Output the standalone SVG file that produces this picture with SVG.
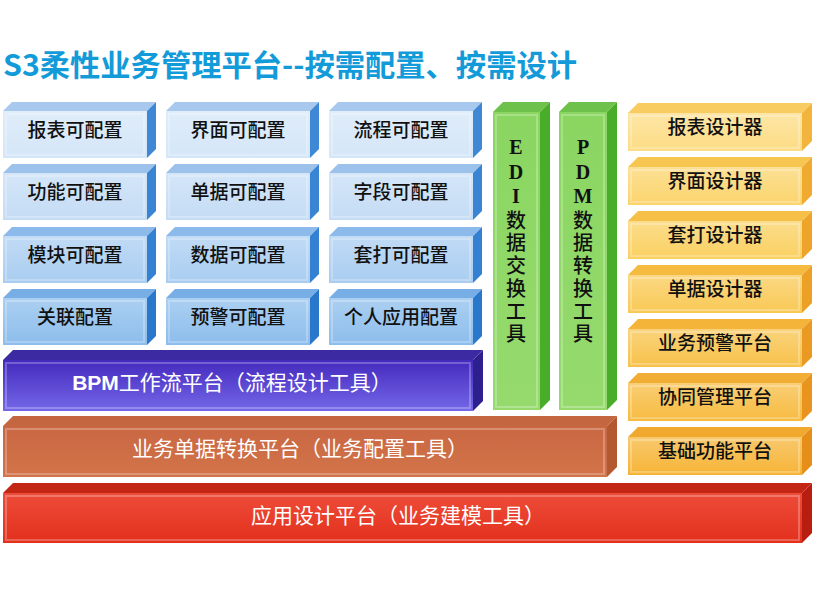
<svg xmlns="http://www.w3.org/2000/svg" width="813" height="603" viewBox="0 0 813 603">
<defs>
<linearGradient id="gloss" x1="0" y1="0" x2="0" y2="1">
<stop offset="0" stop-color="#fff" stop-opacity="0.28"/>
<stop offset="1" stop-color="#fff" stop-opacity="0"/>
</linearGradient>
<linearGradient id="gPurple" x1="0" y1="0" x2="0" y2="1">
<stop offset="0" stop-color="#4429bd"/>
<stop offset="1" stop-color="#7468e8"/>
</linearGradient>
<linearGradient id="gBrown" x1="0" y1="0" x2="0" y2="1">
<stop offset="0" stop-color="#c96742"/>
<stop offset="1" stop-color="#d2744a"/>
</linearGradient>
<linearGradient id="gRed" x1="0" y1="0" x2="0" y2="1">
<stop offset="0" stop-color="#ee4c3a"/>
<stop offset="1" stop-color="#e2301c"/>
</linearGradient>
<linearGradient id="gGreen" x1="0" y1="0" x2="0" y2="1">
<stop offset="0" stop-color="#8ad661"/>
<stop offset="1" stop-color="#96da6e"/>
</linearGradient>
</defs>
<style>
.t{font-family:"Noto Sans CJK SC","Noto Sans",sans-serif;font-size:19px;font-weight:500;fill:#111;text-anchor:middle}
.w{font-family:"Noto Sans CJK SC","Noto Sans",sans-serif;font-size:21px;fill:#fff;text-anchor:middle}
.v{font-family:"Noto Sans CJK SC","Noto Sans",sans-serif;font-size:20px;font-weight:500;fill:#111;writing-mode:vertical-rl;text-orientation:upright;letter-spacing:2.7px}
.l{font-family:"Liberation Serif","Noto Serif",serif;font-weight:bold}
.in{fill:none;stroke:#fff;stroke-opacity:0.25;stroke-width:2}
.title{font-family:"Noto Sans CJK SC","Noto Sans",sans-serif;font-size:30px;font-weight:bold;fill:#139bd9}
</style>
<rect width="813" height="603" fill="#fff"/>
<text class="title" x="3" y="76" textLength="574" lengthAdjust="spacingAndGlyphs">S3柔性业务管理平台--按需配置、按需设计</text>

<g id="n-baobiao-pz">
<polygon points="3,111 12,102 156,102 147,111" fill="#a8c8ee"/>
<polygon points="147,111 156,102 156,149 147,158" fill="#3f88d6"/>
<rect x="3" y="111" width="144" height="47" fill="#d4e6f8"/>
<rect x="3" y="111" width="144" height="47" fill="url(#gloss)"/>
<rect x="6" y="114" width="138" height="41" class="in"/>
<text class="t" x="75" y="137">报表可配置</text>
</g>
<g id="n-jiemian-pz">
<polygon points="166,111 175,102 319,102 310,111" fill="#a8c8ee"/>
<polygon points="310,111 319,102 319,149 310,158" fill="#3f88d6"/>
<rect x="166" y="111" width="144" height="47" fill="#d4e6f8"/>
<rect x="166" y="111" width="144" height="47" fill="url(#gloss)"/>
<rect x="169" y="114" width="138" height="41" class="in"/>
<text class="t" x="238" y="137">界面可配置</text>
</g>
<g id="n-liucheng-pz">
<polygon points="329,111 338,102 482,102 473,111" fill="#a8c8ee"/>
<polygon points="473,111 482,102 482,149 473,158" fill="#3f88d6"/>
<rect x="329" y="111" width="144" height="47" fill="#d4e6f8"/>
<rect x="329" y="111" width="144" height="47" fill="url(#gloss)"/>
<rect x="332" y="114" width="138" height="41" class="in"/>
<text class="t" x="401" y="137">流程可配置</text>
</g>

<g id="n-gongneng-pz">
<polygon points="3,173 12,164 156,164 147,173" fill="#9cc2ec"/>
<polygon points="147,173 156,164 156,211 147,220" fill="#3a84d4"/>
<rect x="3" y="173" width="144" height="47" fill="#c4dcf5"/>
<rect x="3" y="173" width="144" height="47" fill="url(#gloss)"/>
<rect x="6" y="176" width="138" height="41" class="in"/>
<text class="t" x="75" y="199">功能可配置</text>
</g>
<g id="n-danju-pz">
<polygon points="166,173 175,164 319,164 310,173" fill="#9cc2ec"/>
<polygon points="310,173 319,164 319,211 310,220" fill="#3a84d4"/>
<rect x="166" y="173" width="144" height="47" fill="#c4dcf5"/>
<rect x="166" y="173" width="144" height="47" fill="url(#gloss)"/>
<rect x="169" y="176" width="138" height="41" class="in"/>
<text class="t" x="238" y="199">单据可配置</text>
</g>
<g id="n-ziduan-pz">
<polygon points="329,173 338,164 482,164 473,173" fill="#9cc2ec"/>
<polygon points="473,173 482,164 482,211 473,220" fill="#3a84d4"/>
<rect x="329" y="173" width="144" height="47" fill="#c4dcf5"/>
<rect x="329" y="173" width="144" height="47" fill="url(#gloss)"/>
<rect x="332" y="176" width="138" height="41" class="in"/>
<text class="t" x="401" y="199">字段可配置</text>
</g>

<g id="n-mokuai-pz">
<polygon points="3,236 12,227 156,227 147,236" fill="#8cbaea"/>
<polygon points="147,236 156,227 156,274 147,283" fill="#3480d2"/>
<rect x="3" y="236" width="144" height="47" fill="#a9cdf1"/>
<rect x="3" y="236" width="144" height="47" fill="url(#gloss)"/>
<rect x="6" y="239" width="138" height="41" class="in"/>
<text class="t" x="75" y="262">模块可配置</text>
</g>
<g id="n-shuju-pz">
<polygon points="166,236 175,227 319,227 310,236" fill="#8cbaea"/>
<polygon points="310,236 319,227 319,274 310,283" fill="#3480d2"/>
<rect x="166" y="236" width="144" height="47" fill="#a9cdf1"/>
<rect x="166" y="236" width="144" height="47" fill="url(#gloss)"/>
<rect x="169" y="239" width="138" height="41" class="in"/>
<text class="t" x="238" y="262">数据可配置</text>
</g>
<g id="n-taoda-pz">
<polygon points="329,236 338,227 482,227 473,236" fill="#8cbaea"/>
<polygon points="473,236 482,227 482,274 473,283" fill="#3480d2"/>
<rect x="329" y="236" width="144" height="47" fill="#a9cdf1"/>
<rect x="329" y="236" width="144" height="47" fill="url(#gloss)"/>
<rect x="332" y="239" width="138" height="41" class="in"/>
<text class="t" x="401" y="262">套打可配置</text>
</g>

<g id="n-guanlian-pz">
<polygon points="3,298 12,289 156,289 147,298" fill="#78aee6"/>
<polygon points="147,298 156,289 156,336 147,345" fill="#2a78cc"/>
<rect x="3" y="298" width="144" height="47" fill="#8cbdec"/>
<rect x="3" y="298" width="144" height="47" fill="url(#gloss)"/>
<rect x="6" y="301" width="138" height="41" class="in"/>
<text class="t" x="75" y="324">关联配置</text>
</g>
<g id="n-yujing-pz">
<polygon points="166,298 175,289 319,289 310,298" fill="#78aee6"/>
<polygon points="310,298 319,289 319,336 310,345" fill="#2a78cc"/>
<rect x="166" y="298" width="144" height="47" fill="#8cbdec"/>
<rect x="166" y="298" width="144" height="47" fill="url(#gloss)"/>
<rect x="169" y="301" width="138" height="41" class="in"/>
<text class="t" x="238" y="324">预警可配置</text>
</g>
<g id="n-geren-pz">
<polygon points="329,298 338,289 482,289 473,298" fill="#78aee6"/>
<polygon points="473,298 482,289 482,336 473,345" fill="#2a78cc"/>
<rect x="329" y="298" width="144" height="47" fill="#8cbdec"/>
<rect x="329" y="298" width="144" height="47" fill="url(#gloss)"/>
<rect x="332" y="301" width="138" height="41" class="in"/>
<text class="t" x="401" y="324">个人应用配置</text>
</g>

<g id="n-edi">
<polygon points="493,112 503,102 550,102 540,112" fill="#6ec24c"/>
<polygon points="540,112 550,102 550,400 540,410" fill="#4aad2a"/>
<rect x="493" y="112" width="47" height="298" fill="url(#gGreen)"/>
<rect x="496" y="115" width="41" height="292" class="in"/>
<text class="v" x="516" y="136"><tspan class="l">EDI</tspan>数据交换工具</text>
</g>
<g id="n-pdm">
<polygon points="559,112 569,102 617,102 607,112" fill="#6ec24c"/>
<polygon points="607,112 617,102 617,400 607,410" fill="#4aad2a"/>
<rect x="559" y="112" width="48" height="298" fill="url(#gGreen)"/>
<rect x="562" y="115" width="42" height="292" class="in"/>
<text class="v" x="583" y="136"><tspan class="l">PDM</tspan>数据转换工具</text>
</g>

<g id="n-baobiao-sj">
<polygon points="628,113 638,103 812,103 802,113" fill="#f8cc60"/>
<polygon points="802,113 812,103 812,141 802,151" fill="#f2b43c"/>
<rect x="628" y="113" width="174" height="38" fill="#fcdc84"/>
<rect x="628" y="113" width="174" height="38" fill="url(#gloss)"/>
<rect x="631" y="116" width="168" height="32" class="in"/>
<text class="t" x="715" y="134">报表设计器</text>
</g>
<g id="n-jiemian-sj">
<polygon points="628,167 638,157 812,157 802,167" fill="#f7c650"/>
<polygon points="802,167 812,157 812,195 802,205" fill="#f0aa30"/>
<rect x="628" y="167" width="174" height="38" fill="#fbd46c"/>
<rect x="628" y="167" width="174" height="38" fill="url(#gloss)"/>
<rect x="631" y="170" width="168" height="32" class="in"/>
<text class="t" x="715" y="188">界面设计器</text>
</g>
<g id="n-taoda-sj">
<polygon points="628,221 638,211 812,211 802,221" fill="#f6c048"/>
<polygon points="802,221 812,211 812,249 802,259" fill="#eea42a"/>
<rect x="628" y="221" width="174" height="38" fill="#fad060"/>
<rect x="628" y="221" width="174" height="38" fill="url(#gloss)"/>
<rect x="631" y="224" width="168" height="32" class="in"/>
<text class="t" x="715" y="242">套打设计器</text>
</g>
<g id="n-danju-sj">
<polygon points="628,275 638,265 812,265 802,275" fill="#f5ba40"/>
<polygon points="802,275 812,265 812,303 802,313" fill="#eca026"/>
<rect x="628" y="275" width="174" height="38" fill="#f9c955"/>
<rect x="628" y="275" width="174" height="38" fill="url(#gloss)"/>
<rect x="631" y="278" width="168" height="32" class="in"/>
<text class="t" x="715" y="296">单据设计器</text>
</g>
<g id="n-yujing-pt">
<polygon points="628,329 638,319 812,319 802,329" fill="#f4b43a"/>
<polygon points="802,329 812,319 812,357 802,367" fill="#ea9a22"/>
<rect x="628" y="329" width="174" height="38" fill="#f8c24a"/>
<rect x="628" y="329" width="174" height="38" fill="url(#gloss)"/>
<rect x="631" y="332" width="168" height="32" class="in"/>
<text class="t" x="715" y="350">业务预警平台</text>
</g>
<g id="n-xietong-pt">
<polygon points="628,383 638,373 812,373 802,383" fill="#f2ae34"/>
<polygon points="802,383 812,373 812,411 802,421" fill="#e8941e"/>
<rect x="628" y="383" width="174" height="38" fill="#f7bb40"/>
<rect x="628" y="383" width="174" height="38" fill="url(#gloss)"/>
<rect x="631" y="386" width="168" height="32" class="in"/>
<text class="t" x="715" y="404">协同管理平台</text>
</g>
<g id="n-jichu-pt">
<polygon points="628,437 638,427 812,427 802,437" fill="#f0a82e"/>
<polygon points="802,437 812,427 812,465 802,475" fill="#e68e1a"/>
<rect x="628" y="437" width="174" height="38" fill="#f6b436"/>
<rect x="628" y="437" width="174" height="38" fill="url(#gloss)"/>
<rect x="631" y="440" width="168" height="32" class="in"/>
<text class="t" x="715" y="458">基础功能平台</text>
</g>

<g id="n-bpm">
<polygon points="3,360 13,350 483,350 473,360" fill="#3b2aa2"/>
<polygon points="473,360 483,350 483,401 473,411" fill="#2c1f8e"/>
<rect x="3" y="360" width="470" height="51" fill="url(#gPurple)"/>
<rect x="6" y="363" width="464" height="45" class="in"/>
<text class="w" x="232" y="390"><tspan font-family="Liberation Sans, sans-serif" font-weight="bold">BPM</tspan>工作流平台（流程设计工具）</text>
</g>
<g id="n-zhuanhuan">
<polygon points="3,426 13,416 617,416 607,426" fill="#c46640"/>
<polygon points="607,426 617,416 617,467 607,477" fill="#b4582f"/>
<rect x="3" y="426" width="604" height="51" fill="url(#gBrown)"/>
<rect x="6" y="429" width="598" height="45" class="in"/>
<text class="w" x="300" y="456">业务单据转换平台（业务配置工具）</text>
</g>
<g id="n-yingyong">
<polygon points="3,493 13,483 812,483 802,493" fill="#c42614"/>
<polygon points="802,493 812,483 812,533 802,543" fill="#b81e10"/>
<rect x="3" y="493" width="799" height="50" fill="url(#gRed)"/>
<rect x="6" y="496" width="793" height="44" class="in"/>
<text class="w" x="398" y="523">应用设计平台（业务建模工具）</text>
</g>
<g id="connectors"/>
</svg>
